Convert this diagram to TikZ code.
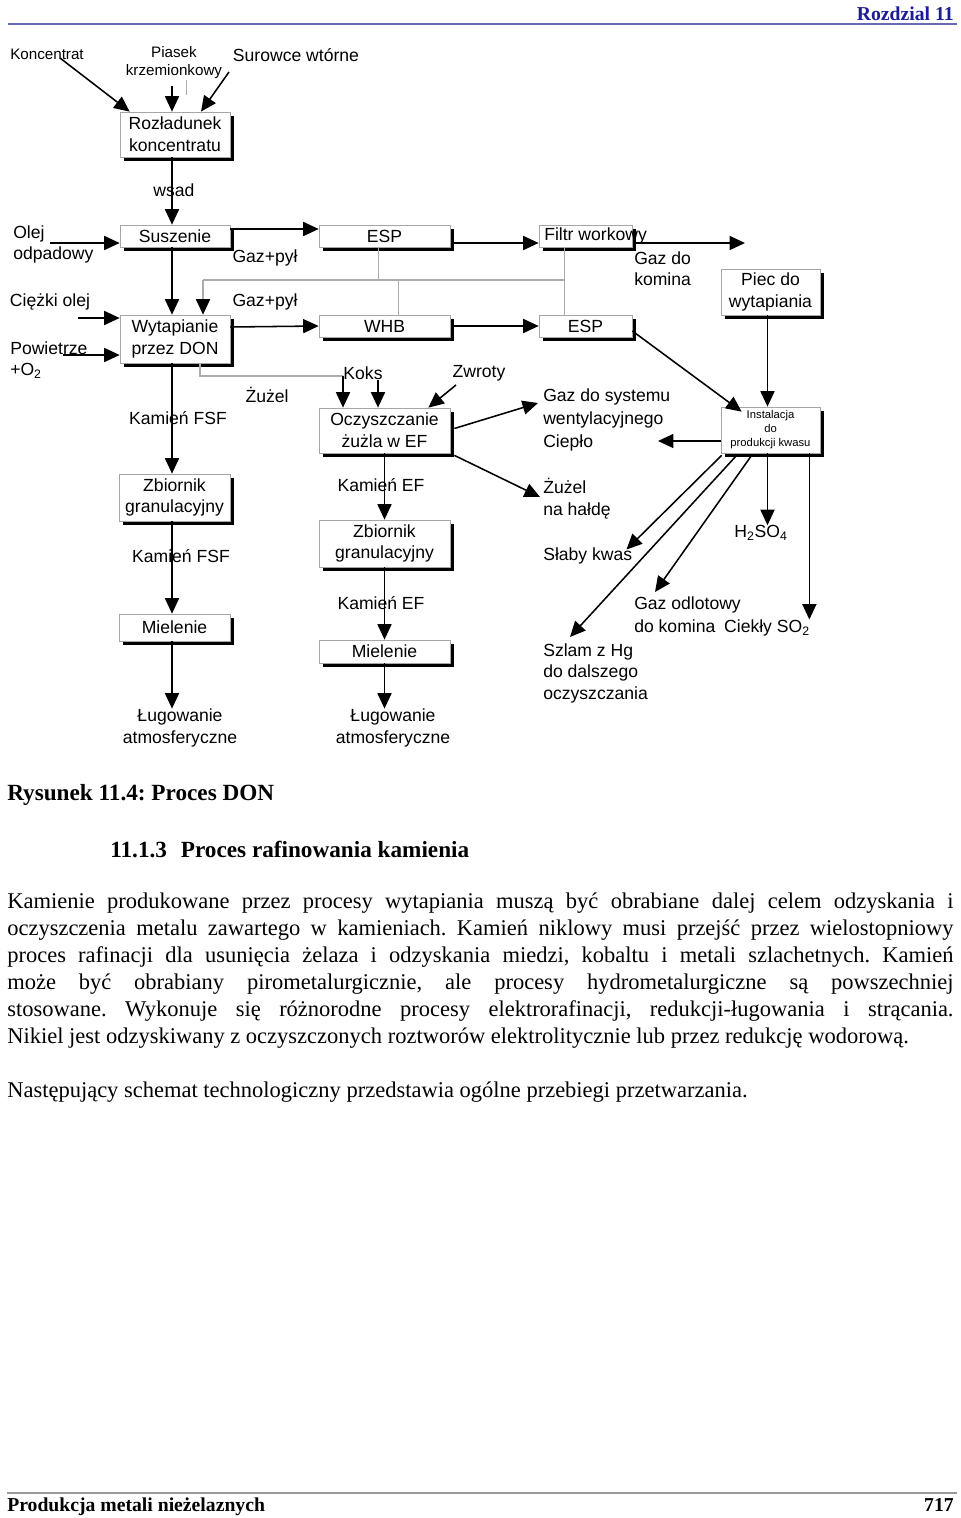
\documentclass[tikz,border=0pt]{standalone}
\usepackage{fontspec}
\setmainfont{Liberation Serif}
\setsansfont{Liberation Sans}
\usetikzlibrary{arrows.meta,shadows,calc}
\definecolor{headblue}{RGB}{28,28,150}
\definecolor{rulecol}{RGB}{105,105,180}
\frenchspacing
\tikzset{
  every node/.style={inner sep=0pt},
  procbox/.style 2 args={draw=gray!70, fill=white, line width=0.5pt,
    minimum width=#1*0.025cm, minimum height=#2*0.025cm, align=center,
    font=\sffamily\fontsize{12.5}{15.5}\selectfont,
    drop shadow={shadow xshift=0.09cm, shadow yshift=-0.09cm, fill=black, opacity=1}},
  lbl/.style={font=\sffamily\fontsize{12.5}{15.5}\selectfont},
  smalllbl/.style={font=\sffamily\fontsize{10.8}{12.8}\selectfont},
  arr/.style={draw=black, line width=1.1pt, -{Triangle[length=11pt,width=10pt,color=black]}},
  grayline/.style={draw=gray!65, line width=1pt},
  bodyline/.style={anchor=west, font=\fontsize{16}{19}\selectfont},
}

\begin{document}
\begin{tikzpicture}[x=0.025cm,y=-0.025cm]
  \useasboundingbox (0,0) rectangle (960,1518);
  % page head
  \node[anchor=east, text=headblue, font=\bfseries\fontsize{14}{16}\selectfont] (hdr) at (954,14) {Rozdzial 11};
  \draw[rulecol, line width=1.5pt] (8,24) -- (957,24);

  % process boxes
  \node[procbox={110}{45}] (rozl) at (175,134.5) {Rozładunek\\ koncentratu};
  \node[procbox={110}{22}] (susz) at (175,236) {Suszenie};
  \node[procbox={131}{22}] (esp1) at (384.5,236) {ESP};
  \node[procbox={93}{22}] (filtr) at (585.5,236) {\makebox[2.2cm][l]{\hspace{2pt}Filtr workowy}};
  \node[procbox={110}{48}] (wyt) at (175,339) {Wytapianie\\przez DON};
  \node[procbox={131}{22}] (whb) at (384.5,326) {WHB};
  \node[procbox={93}{22}] (esp2) at (585.5,326) {ESP};
  \node[procbox={99}{46}] (piec) at (770.5,292) {Piec do\\wytapiania};
  \node[procbox={131}{45}] (oczy) at (384.5,430.5) {Oczyszczanie\\żużla w EF};
  \node[procbox={99}{46}, font=\sffamily\fontsize{8}{10}\selectfont] (inst) at (770.5,430) {Instalacja\\do\\produkcji kwasu};
  \node[procbox={111}{47}] (zbl) at (174.5,497.5) {Zbiornik\\granulacyjny};
  \node[procbox={131}{47}] (zbm) at (384.5,543.5) {Zbiornik\\granulacyjny};
  \node[procbox={111}{27}] (miel) at (174.5,627.5) {Mielenie};
  \node[procbox={131}{23}] (mielm) at (384.5,651.5) {Mielenie};

  % stream labels
  \node[smalllbl] (konc) at (47,54) {Koncentrat};
  \node[smalllbl, align=center] (piasek) at (174,63) {Piasek\\krzemionkowy};
  \node[lbl] (surow) at (296,55) {Surowce wtórne};
  \node[lbl] (wsad) at (174,190) {wsad};
  \node[lbl, anchor=north west, align=left] (olej) at (13,225) {Olej\\odpadowy};
  \node[lbl] (ciezki) at (50,302) {Ciężki olej};
  \node[lbl, anchor=north west, align=left] (powietrze) at (10,341) {Powietrze\\+O\textsubscript{2}};
  \node[lbl] (gp1) at (265,258) {Gaz+pył};
  \node[lbl] (gp2) at (265,302) {Gaz+pył};
  \node[lbl, anchor=north west, align=left] (gazkom) at (634,251) {Gaz do\\komina};
  \node[lbl] (koks) at (363,373) {Koks};
  \node[lbl] (zwroty) at (479,373) {Zwroty};
  \node[lbl] (zuzel) at (267,395) {Żużel};
  \node[lbl] (kfsf1) at (178,418) {Kamień FSF};
  \node[lbl, anchor=north west, align=left, font=\sffamily\fontsize{12.5}{16.4}\selectfont] (gazsys) at (543,388) {Gaz do systemu\\wentylacyjnego\\Ciepło};
  \node[lbl, anchor=north west, align=left] (zuzhal) at (543,478) {Żużel\\na hałdę};
  \node[lbl] (kef1) at (381,485) {Kamień EF};
  \node[lbl] (kfsf2) at (181,556) {Kamień FSF};
  \node[lbl, anchor=west] (slaby) at (543,556) {Słaby kwas};
  \node[lbl] (h2so4) at (761,533) {H\textsubscript{2}SO\textsubscript{4}};
  \node[lbl] (kef2) at (381,603) {Kamień EF};
  \node[lbl, anchor=north west, align=left, font=\sffamily\fontsize{12.5}{17}\selectfont] (gazodl) at (634,596) {Gaz odlotowy\\do komina};
  \node[lbl] (ciekly) at (767,628) {Ciekły SO\textsubscript{2}};
  \node[lbl, anchor=north west, align=left] (szlam) at (543,643) {Szlam z Hg\\do dalszego\\oczyszczania};
  \node[lbl, align=center] (lug1) at (180,728) {Ługowanie\\atmosferyczne};
  \node[lbl, align=center] (lug2) at (393,728) {Ługowanie\\atmosferyczne};

  % free ends
  \coordinate (k0) at (60,58);
  \coordinate (p0) at (172,86);
  \coordinate (s0) at (229,72);
  \coordinate (o0) at (50,243);
  \coordinate (c0) at (78,318);
  \coordinate (w0) at (63,355);
  \coordinate (g0) at (745,243);
  \coordinate (cp) at (658,441);
  \coordinate (z0) at (456,385);
  \coordinate (rec) at (203,280);
  \coordinate (kj) at (343,376);

  % feed
  \draw[arr] (k0) -- ($(rozl.north west)+(10,0)$);
  \draw[arr] (p0) -- ($(rozl.north)+(-3,0)$);
  \draw[arr] (s0) -- ($(rozl.north)+(26,0)$);
  \draw[grayline, line width=0.5pt] (186,80) -- (186,95);
  \draw[arr] ($(rozl.south)+(-3,0)$) -- ($(susz.north)+(-3,0)$);
  \draw[arr] (o0) -- ($(susz.west)+(0,7)$);
  \draw[arr] (c0) -- ($(wyt.west)+(0,-21)$);
  \draw[arr] (w0) -- ($(wyt.west)+(0,16)$);
  \draw[arr] ($(susz.south)+(-3,0)$) -- ($(wyt.north)+(-3,0)$);

  % gas line
  \draw[arr] ($(susz.east)+(0,-7)$) -- ($(esp1.west)+(0,-7)$);
  \draw[arr] ($(esp1.east)+(4,7)$) -- ($(filtr.west)+(0,7)$);
  \draw[arr] ($(filtr.east)+(4,7)$) -- (g0);
  \draw[arr] ($(wyt.east)+(0,-12)$) -- (whb.west);
  \draw[arr] ($(whb.east)+(4,0)$) -- (esp2.west);
  \draw[arr] ($(esp2.east)+(0,5)$) -- ($(inst.north west)+(21,5)$);
  \draw[arr] ($(piec.south)+(-3,0)$) -- ($(inst.north)+(-3,0)$);
  \draw[arr] ($(inst.west)+(0,11)$) -- (cp);

  % dust return
  \coordinate (e1) at ($(esp1.south)+(-6,0)$);
  \coordinate (w1) at ($(whb.north)+(14,0)$);
  \coordinate (f1) at ($(filtr.south)+(-21,0)$);
  \draw[grayline] (e1) -- (e1 |- rec);
  \draw[grayline] (w1) -- (w1 |- rec);
  \draw[grayline] (f1) -- (f1 |- esp2.north);
  \draw[grayline] (rec) -- (f1 |- rec);
  \draw[arr, draw=gray!65] (rec) -- (rec |- wyt.north);

  % slag cleaning
  \draw[grayline] ($(wyt.south)+(25,0)$) |- (kj);
  \draw[arr] (kj) -- (kj |- oczy.north);
  \coordinate (k2) at ($(koks.south)+(15,0)$);
  \draw[arr] (k2) -- (k2 |- oczy.north);
  \draw[arr] (z0) -- ($(oczy.north east)+(-22,0)$);
  \draw[arr] ($(oczy.east)+(4,-2)$) -- ($(gazsys.north west)+(-5,15)$);
  \draw[arr] ($(oczy.south east)+(4,2)$) -- ($(zuzhal.north west)+(-3,19)$);

  % matte
  \draw[arr] ($(wyt.south)+(-3,0)$) -- ($(zbl.north)+(-2.5,0)$);
  \draw[arr] ($(zbl.south)+(-2.5,0)$) -- ($(miel.north)+(-2.5,0)$);
  \coordinate (m1) at ($(miel.south)+(-2.5,0)$);
  \draw[arr] (m1) -- (m1 |- lug1.north);
  \draw[arr] (oczy.south) -- (zbm.north);
  \draw[arr] (zbm.south) -- (mielm.north);
  \draw[arr] (mielm.south) -- (mielm.south |- lug2.north);

  % acid plant
  \draw[arr] ($(inst.south west)+(1,2)$) -- ($(slaby.north east)+(-6,2)$);
  \draw[arr] ($(inst.south west)+(16,2)$) -- ($(szlam.north west)+(27,-6)$);
  \draw[arr] ($(inst.south west)+(31,2)$) -- ($(gazodl.north west)+(21,-4)$);
  \coordinate (h0) at ($(inst.south)+(-3,0)$);
  \draw[arr] (h0) -- (h0 |- h2so4.north);
  \coordinate (c2) at ($(inst.south east)+(-11,0)$);
  \draw[arr] (c2) -- (c2 |- ciekly.north);

  % text below
  \node[anchor=west, font=\bfseries\fontsize{16.5}{19}\selectfont] (cap) at (7,795) {Rysunek 11.4: Proces DON};
  \node[anchor=west, font=\bfseries\fontsize{16.5}{19}\selectfont] (sec) at (110,849) {11.1.3\hspace{0.6em}Proces rafinowania kamienia};
  \node[bodyline] (p1) at (7,903) {\makebox[23.65cm][s]{Kamienie produkowane przez procesy wytapiania muszą być obrabiane dalej celem odzyskania i}};
  \node[bodyline] (p2) at (7,930) {\makebox[23.65cm][s]{oczyszczenia metalu zawartego w kamieniach. Kamień niklowy musi przejść przez wielostopniowy}};
  \node[bodyline] (p3) at (7,957) {\makebox[23.65cm][s]{proces rafinacji dla usunięcia żelaza i odzyskania miedzi, kobaltu i metali szlachetnych. Kamień}};
  \node[bodyline] (p4) at (7,984) {\makebox[23.65cm][s]{może być obrabiany pirometalurgicznie, ale procesy hydrometalurgiczne są powszechniej}};
  \node[bodyline] (p5) at (7,1011) {\makebox[23.65cm][s]{stosowane. Wykonuje się różnorodne procesy elektrorafinacji, redukcji-ługowania i strącania.}};
  \node[bodyline] (p6) at (7,1038) {Nikiel jest odzyskiwany z oczyszczonych roztworów elektrolitycznie lub przez redukcję wodorową.};
  \node[bodyline] (q1) at (7,1092) {Następujący schemat technologiczny przedstawia ogólne przebiegi przetwarzania.};

  % page foot
  \draw[gray!80, line width=1.5pt] (7,1493) -- (957,1493);
  \node[anchor=west, font=\bfseries\fontsize{14}{16}\selectfont] (foot) at (7,1507) {Produkcja metali nieżelaznych};
  \node[anchor=east, font=\bfseries\fontsize{14}{16}\selectfont] (pnum) at (954,1505) {717};
\end{tikzpicture}
\end{document}
